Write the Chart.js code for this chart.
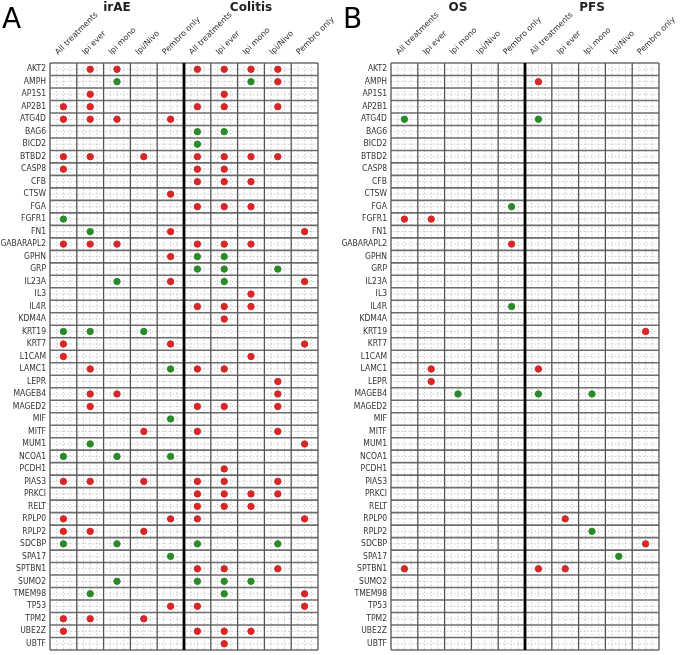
<!DOCTYPE html>
<html><head><meta charset="utf-8">
<script src="https://cdn.jsdelivr.net/npm/chart.js@4"></script>
<style>
body{margin:0;background:#fff;width:680px;height:655px;position:relative;overflow:hidden;font-family:"DejaVu Sans",sans-serif}
.wrap{position:absolute;top:0;height:655px}
.letter{position:absolute;top:2px;font-size:28px;color:#000}
</style></head><body>
<div class="wrap" style="left:0;width:350px"><canvas id="chartA"></canvas></div>
<div class="wrap" style="left:338px;width:342px"><canvas id="chartB"></canvas></div>
<div class="letter" style="left:2px">A</div>
<div class="letter" style="left:343px">B</div>
<script>
const genes = ["AKT2","AMPH","AP1S1","AP2B1","ATG4D","BAG6","BICD2","BTBD2","CASP8","CFB","CTSW","FGA","FGFR1","FN1","GABARAPL2","GPHN","GRP","IL23A","IL3","IL4R","KDM4A","KRT19","KRT7","L1CAM","LAMC1","LEPR","MAGEB4","MAGED2","MIF","MITF","MUM1","NCOA1","PCDH1","PIAS3","PRKCI","RELT","RPLP0","RPLP2","SDCBP","SPA17","SPTBN1","SUMO2","TMEM98","TP53","TPM2","UBE2Z","UBTF"];
const treatments = ["All treatments","Ipi ever","Ipi mono","Ipi/Nivo","Pembro only"];
const colLabels = treatments.concat(treatments);

// r = red (risk), g = green (protective), . = none ; 10 columns per gene
const panelA = {
  AKT2:".rr..rrrr.", AMPH:"..g....gr.", AP1S1:".r....r...", AP2B1:"rr...rr.r.",
  ATG4D:"rrr.r.....", BAG6:".....gg...", BICD2:".....g....", BTBD2:"rr.r.rrrr.",
  CASP8:"r....rr...", CFB:".....rrr..", CTSW:"....r.....", FGA:".....rrr..",
  FGFR1:"g.........", FN1:".g..r....r", GABARAPL2:"rrr..rrr..", GPHN:"....rgg...",
  GRP:".....gg.g.", IL23A:"..g.r.g..r", IL3:".......r..", IL4R:".....rrr..",
  KDM4A:"......r...", KRT19:"gg.g......", KRT7:"r...r....r", L1CAM:"r......r..",
  LAMC1:".r..grr...", LEPR:"........r.", MAGEB4:".rr.....r.", MAGED2:".r...rr.r.",
  MIF:"....g.....", MITF:"...r.r..r.", MUM1:".g.......r", NCOA1:"g.g.g.....",
  PCDH1:"......r...", PIAS3:"rr.r.rr.r.", PRKCI:".....rrrr.", RELT:".....rrr..",
  RPLP0:"r...rr...r", RPLP2:"rr.r......", SDCBP:"g.g..g..g.", SPA17:"....g.....",
  SPTBN1:".....rr.r.", SUMO2:"..g..ggg..", TMEM98:".g....g..r", TP53:"....rr...r",
  TPM2:"rr.r......", UBE2Z:"r....rrr..", UBTF:"......r..."
};
const panelB = {
  AMPH:".....r....", ATG4D:"g....g....", FGA:"....g.....", FGFR1:"rr........",
  GABARAPL2:"....r.....", IL4R:"....g.....", KRT19:".........r", LAMC1:".r...r....",
  LEPR:".r........", MAGEB4:"..g..g.g..", RPLP0:"......r...", RPLP2:".......g..",
  SDCBP:".........r", SPA17:"........g.", SPTBN1:"r....rr..."
};

const RED = '#d62728', GREEN = '#2a8a2a';

function toPoints(table, code) {
  const pts = [];
  genes.forEach((g, i) => {
    const row = table[g] || "..........";
    for (let c = 0; c < 10; c++) if (row[c] === code) pts.push({x: c + 0.5, y: i + 0.5});
  });
  return pts;
}

const gridPlugin = {
  id: 'matrixGrid',
  beforeDatasetsDraw(chart) {
    const {ctx, chartArea: a, scales: {x, y}} = chart;
    ctx.save();
    // dotted lines inside the cells
    ctx.strokeStyle = '#bdbdbd'; ctx.lineWidth = 0.8; ctx.setLineDash([1.5, 2]);
    for (let c = 0; c < 10; c++) for (const f of [0.25, 0.5, 0.75]) {
      const px = x.getPixelForValue(c + f);
      ctx.beginPath(); ctx.moveTo(px, a.top); ctx.lineTo(px, a.bottom); ctx.stroke();
    }
    for (let r = 0; r < genes.length; r++) {
      const py = y.getPixelForValue(r + 0.5);
      ctx.beginPath(); ctx.moveTo(a.left, py); ctx.lineTo(a.right, py); ctx.stroke();
    }
    ctx.setLineDash([]);
    // row boundaries
    ctx.strokeStyle = '#6e6e6e'; ctx.lineWidth = 1.6;
    for (let r = 0; r <= genes.length; r++) {
      const py = y.getPixelForValue(r);
      ctx.beginPath(); ctx.moveTo(a.left, py); ctx.lineTo(a.right, py); ctx.stroke();
    }
    // column boundaries
    for (let c = 0; c <= 10; c++) {
      const px = x.getPixelForValue(c);
      ctx.strokeStyle = c === 5 ? '#000' : '#555';
      ctx.lineWidth = c === 5 ? 2.8 : 1.3;
      ctx.beginPath(); ctx.moveTo(px, a.top); ctx.lineTo(px, a.bottom); ctx.stroke();
    }
    ctx.restore();
  },
  afterDraw(chart) {
    const {ctx, scales: {x}} = chart;
    const titles = chart.options.plugins.matrixGrid.titles;
    ctx.save();
    ctx.font = 'bold 12px "DejaVu Sans"';
    ctx.fillStyle = '#222'; ctx.textAlign = 'center'; ctx.textBaseline = 'middle';
    ctx.fillText(titles[0], x.getPixelForValue(2.5), 8);
    ctx.fillText(titles[1], x.getPixelForValue(7.5), 8);
    ctx.restore();
  }
};

function makeChart(id, table, titles, yWidth, padRight) {
  const ctx = document.getElementById(id).getContext('2d');
  return new Chart(ctx, {
    type: 'scatter',
    data: {
      datasets: [
        {data: toPoints(table, 'r'), backgroundColor: RED, borderColor: RED, pointRadius: 3.2},
        {data: toPoints(table, 'g'), backgroundColor: GREEN, borderColor: GREEN, pointRadius: 3.2}
      ]
    },
    options: {
      responsive: true,
      maintainAspectRatio: false,
      animation: false,
      layout: {padding: {top: 0, right: padRight, bottom: 4, left: 0}},
      plugins: {
        legend: {display: false},
        tooltip: {enabled: false},
        matrixGrid: {titles: titles}
      },
      scales: {
        x: {
          type: 'linear', position: 'top', min: 0, max: 10,
          grid: {display: false, drawTicks: false}, border: {display: false},
          afterBuildTicks: s => { s.ticks = colLabels.map((_, i) => ({value: i + 0.5})); },
          afterFit: s => { s.height = 63; s.paddingLeft = 0; s.paddingRight = 0; },
          ticks: {
            autoSkip: false, minRotation: 45, maxRotation: 45, padding: 6,
            color: '#333', font: {size: 8, family: 'DejaVu Sans'},
            callback: (v) => colLabels[Math.floor(v)]
          }
        },
        y: {
          type: 'linear', reverse: true, min: 0, max: genes.length,
          grid: {display: false, drawTicks: false}, border: {display: false},
          afterBuildTicks: s => { s.ticks = genes.map((_, i) => ({value: i + 0.5})); },
          afterFit: s => { s.width = yWidth; s.paddingTop = 0; s.paddingBottom = 0; },
          ticks: {
            autoSkip: false, padding: 4,
            color: '#333', font: {size: 8.5, family: '"DejaVu Sans Condensed", "DejaVu Sans"'},
            callback: (v) => genes[Math.floor(v)]
          }
        }
      }
    },
    plugins: [gridPlugin]
  });
}

makeChart('chartA', panelA, ['irAE', 'Colitis'], 50, 32);
makeChart('chartB', panelB, ['OS', 'PFS'], 53, 21);
</script>
</body></html>
